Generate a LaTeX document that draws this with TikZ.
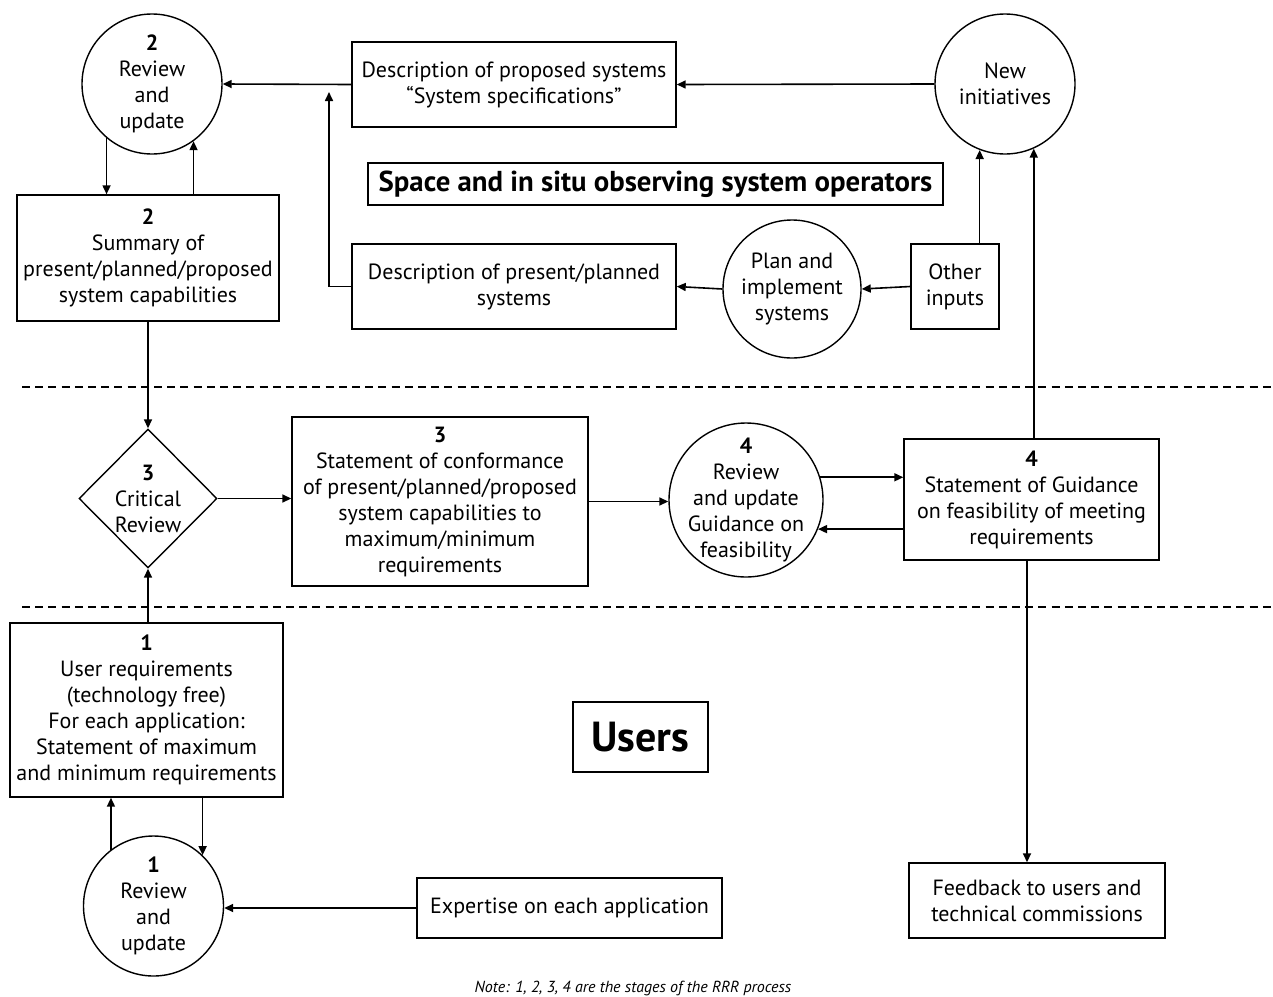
\documentclass[tikz,border=0pt]{standalone}
\usepackage{fontspec}
\setmainfont{PT Sans}
\usetikzlibrary{shapes.geometric,arrows.meta}

\tikzset{
  box/.style={draw, line width=0.7pt, inner sep=0pt, align=center, font=\fontsize{11}{13}\selectfont},
  circ/.style={box, circle, inner sep=-8pt},
  arr/.style={line width=0.8pt, -{Triangle[length=4.5pt,width=4pt]}},
  sep/.style={line width=0.8pt, dash pattern=on 4pt off 2.6pt}
}

\begin{document}
\begin{tikzpicture}[x=0.5pt, y=-0.5pt]
                \useasboundingbox (0, 0) rectangle (1273, 996);

                % operators
                \node[circ, minimum size=70pt] (rev2) at (152, 84) {\textbf{2}\\Review\\and\\update};
                \node[box, minimum width=162pt, minimum height=42.5pt] (propsys) at (514, 84.5) {Description of proposed systems\\“System specifications”};
                \node[circ, minimum size=70pt] (newinit) at (1005, 84) {New\\initiatives};
                \node[box, minimum width=287.5pt, minimum height=21pt, font=\fontsize{14.4}{16}\selectfont\bfseries] (space) at (655.5, 184) {Space and in situ observing system operators};
                \node[box, minimum width=131pt, minimum height=63pt] (summ2) at (148, 258) {\textbf{2}\\Summary of\\present/planned/proposed\\system capabilities};
                \node[box, minimum width=162pt, minimum height=42.5pt] (presys) at (514, 286.5) {Description of present/planned\\systems};
                \node[circ, minimum size=69pt] (plan) at (792, 289) {Plan and\\implement\\systems};
                \node[box, minimum width=44pt, minimum height=42.5pt] (other) at (955, 286.5) {Other\\inputs};
                \coordinate (jn) at (329, 92);

                % review
                \node[box, diamond, inner sep=-4pt, minimum width=69pt, minimum height=69.5pt] (crit) at (148, 498.5) {\textbf{3}\\Critical\\Review};
                \node[box, minimum width=148pt, minimum height=84.5pt] (conf3) at (440, 501.5) {\textbf{3}\\Statement of conformance\\of present/planned/proposed\\system capabilities to\\maximum/minimum\\requirements};
                \node[circ, minimum size=77pt] (rev4) at (746, 500) {\textbf{4}\\Review\\and update\\Guidance on\\feasibility};
                \node[box, minimum width=127.5pt, minimum height=60.5pt] (guid4) at (1031.5, 499.5) {\textbf{4}\\Statement of Guidance\\on feasibility of meeting\\requirements};

                % users
                \node[box, minimum width=136.5pt, minimum height=87pt] (user1) at (146.5, 710) {\textbf{1}\\User requirements\\(technology free)\\For each application:\\Statement of maximum\\and minimum requirements};
                \node[box, minimum width=67.5pt, minimum height=35pt, font=\fontsize{21}{24}\selectfont\bfseries] (users) at (640.5, 737) {Users};
                \node[circ, minimum size=70pt] (rev1) at (153.5, 906) {\textbf{1}\\Review\\and\\update};
                \node[box, minimum width=152.5pt, minimum height=30pt] (expert) at (569.5, 908) {Expertise on each application};
                \node[box, minimum width=128pt, minimum height=37.5pt] (feed) at (1037, 900.5) {Feedback to users and\\technical commissions};
                \node[font=\fontsize{8}{9}\selectfont\itshape, inner sep=0pt] (note) at (633, 988) {Note: 1, 2, 3, 4 are the stages of the RRR process};

                \coordinate (d1l) at (22, 387);
                \coordinate (d1r) at (1273, 387);
                \coordinate (d2l) at (22, 607);
                \coordinate (d2r) at (1273, 607);
                \draw[sep] (d1l) -- (d1r);
                \draw[sep] (d2l) -- (d2r);

                \draw[arr] (rev2.-130) -- (rev2.-130 |- summ2.north);
                \draw[arr] (rev2.-54 |- summ2.north) -- (rev2.-54);
                \draw[arr] (propsys.west) -- (rev2.east);
                \draw[arr] (newinit.west) -- (propsys.east);
                \draw[arr] (presys.west) -| (jn);
                \draw[arr] (plan.west) -- (presys.east);
                \draw[arr] (other.west) -- (plan.east);
                \draw[arr] (newinit.-111 |- other.north) -- (newinit.-111);
                \draw[arr] (newinit.-66 |- guid4.north) -- (newinit.-66);
                \draw[arr] (summ2.south) -- (crit.north);
                \draw[arr] (crit.south |- user1.north) -- (crit.south);
                \draw[arr] (crit.east) -- (crit.east -| conf3.west);
                \draw[arr] (conf3.east) -- (conf3.east -| rev4.west);
                \draw[arr] (rev4.17) -- (rev4.17 -| guid4.west);
                \draw[arr] (rev4.-22 -| guid4.west) -- (rev4.-22);
                \draw[arr] ([xshift=-2.25pt]guid4.south) -- ([xshift=-2.25pt]guid4.south |- feed.north);
                \draw[arr] (rev1.127) -- (rev1.127 |- user1.south);
                \draw[arr] (rev1.46 |- user1.south) -- (rev1.46);
                \draw[arr] (expert.west) -- (expert.west -| rev1.east);
            \end{tikzpicture}
\end{document}
